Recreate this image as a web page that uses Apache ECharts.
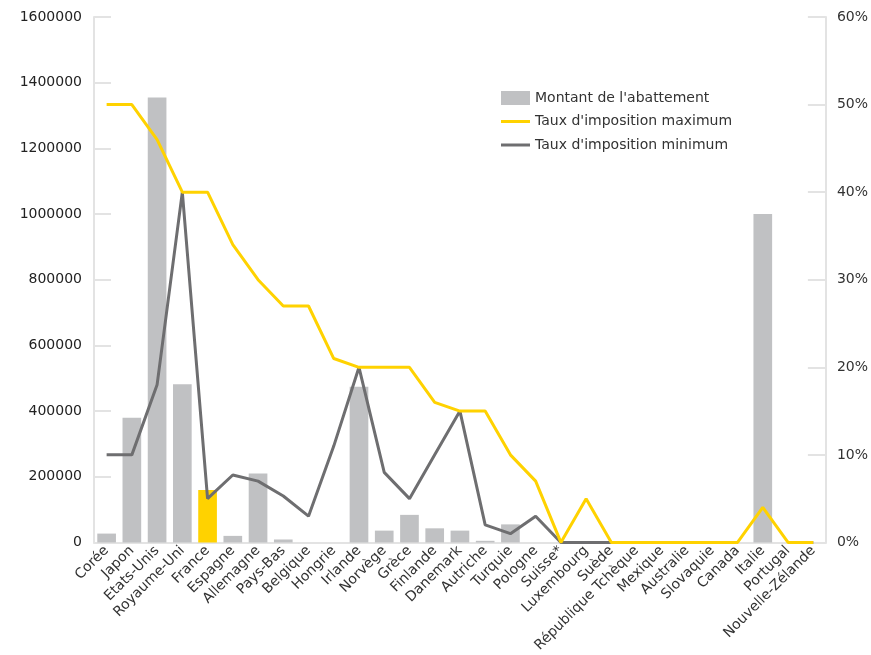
<!DOCTYPE html>
<html>
<head>
<meta charset="utf-8">
<script src="https://cdn.jsdelivr.net/npm/echarts@6/dist/echarts.min.js"></script>
<style>
html,body{margin:0;padding:0;background:#fff;}
#chart{width:871px;height:655px;}
</style>
</head>
<body>
<div id="chart"></div>
<script>
const categories = ['Corée','Japon','Etats-Unis','Royaume-Uni','France','Espagne','Allemagne','Pays-Bas','Belgique','Hongrie','Irlande','Norvège','Grèce','Finlande','Danemark','Autriche','Turquie','Pologne','Suisse*','Luxembourg','Suède','République Tchèque','Mexique','Australie','Slovaquie','Canada','Italie','Portugal','Nouvelle-Zélande'];
const montantAbattement = [27000,380000,1355000,482000,160000,20000,210000,9000,0,0,474000,36000,84000,43000,36000,5000,55000,0,0,0,0,0,0,0,0,0,1000000,0,0];
const tauxMaximum = [50,50,46,40,40,34,30,27,27,21,20,20,20,16,15,15,10,7,0,5,0,0,0,0,0,0,4,0,0];
const tauxMinimum = [10,10,18,40,5,7.7,7,5.3,3,11,20,8,5,10,15,2,1,3,0,0,0,0,0,0,0,0,null,0,0];
const leftTicks = {min:0, max:1600000, interval:200000};
const rightTicks = {min:0, max:60, interval:10};
const highlighted = 'France';

const GRAY_BAR = '#C0C1C3';
const YELLOW = '#FFD200';
const DARK = '#6E6E70';
const AXIS = '#E3E3E3';
const FONT = 'DejaVu Sans';
const LINE_ICON = 'path://M0,0H29V3H0Z';

const chart = echarts.init(document.getElementById('chart'));
chart.setOption({
  animation: false,
  backgroundColor: '#fff',
  textStyle: {fontFamily: FONT},
  grid: {left: 94, right: 44, top: 17, bottom: 110, containLabel: false},
  legend: {
    orient: 'vertical',
    left: 496, top: 86,
    itemWidth: 29, itemHeight: 14, itemGap: 9.5,
    textStyle: {fontFamily: FONT, fontSize: 14, color: '#333'},
    data: [
      {name: "Montant de l'abattement", icon: 'rect'},
      {name: "Taux d'imposition maximum", icon: LINE_ICON},
      {name: "Taux d'imposition minimum", icon: LINE_ICON}
    ]
  },
  xAxis: {
    type: 'category',
    data: categories,
    axisLine: {lineStyle: {color: AXIS, width: 2}},
    axisTick: {show: false},
    axisLabel: {interval: 0, rotate: 45, fontFamily: FONT, fontSize: 14, color: '#333', margin: 6}
  },
  yAxis: [
    {
      type: 'value', min: leftTicks.min, max: leftTicks.max, interval: leftTicks.interval,
      position: 'left',
      axisLine: {show: true, lineStyle: {color: AXIS, width: 2}},
      axisTick: {show: true, inside: true, length: 17, lineStyle: {color: AXIS, width: 2}},
      splitLine: {show: false},
      axisLabel: {fontFamily: FONT, fontSize: 14, color: '#222', margin: 12, formatter: v => String(v)}
    },
    {
      type: 'value', min: rightTicks.min, max: rightTicks.max, interval: rightTicks.interval,
      position: 'right',
      axisLine: {show: true, lineStyle: {color: AXIS, width: 2}},
      axisTick: {show: true, inside: true, length: 18, lineStyle: {color: AXIS, width: 2}},
      splitLine: {show: false},
      axisLabel: {fontFamily: FONT, fontSize: 14, color: '#333', margin: 11, formatter: '{value}%'}
    }
  ],
  series: [
    {
      name: "Montant de l'abattement",
      type: 'bar',
      yAxisIndex: 0,
      barCategoryGap: '26%',
      itemStyle: {color: GRAY_BAR},
      data: montantAbattement.map((v, i) => categories[i] === highlighted ? {value: v, itemStyle: {color: YELLOW}} : v),
      z: 1
    },
    {
      name: "Taux d'imposition minimum",
      type: 'line',
      yAxisIndex: 1,
      symbol: 'none',
      lineStyle: {color: DARK, width: 3},
      itemStyle: {color: DARK},
      data: tauxMinimum,
      z: 2
    },
    {
      name: "Taux d'imposition maximum",
      type: 'line',
      yAxisIndex: 1,
      symbol: 'none',
      lineStyle: {color: YELLOW, width: 3},
      itemStyle: {color: YELLOW},
      data: tauxMaximum,
      z: 3
    }
  ]
});
</script>
</body>
</html>
